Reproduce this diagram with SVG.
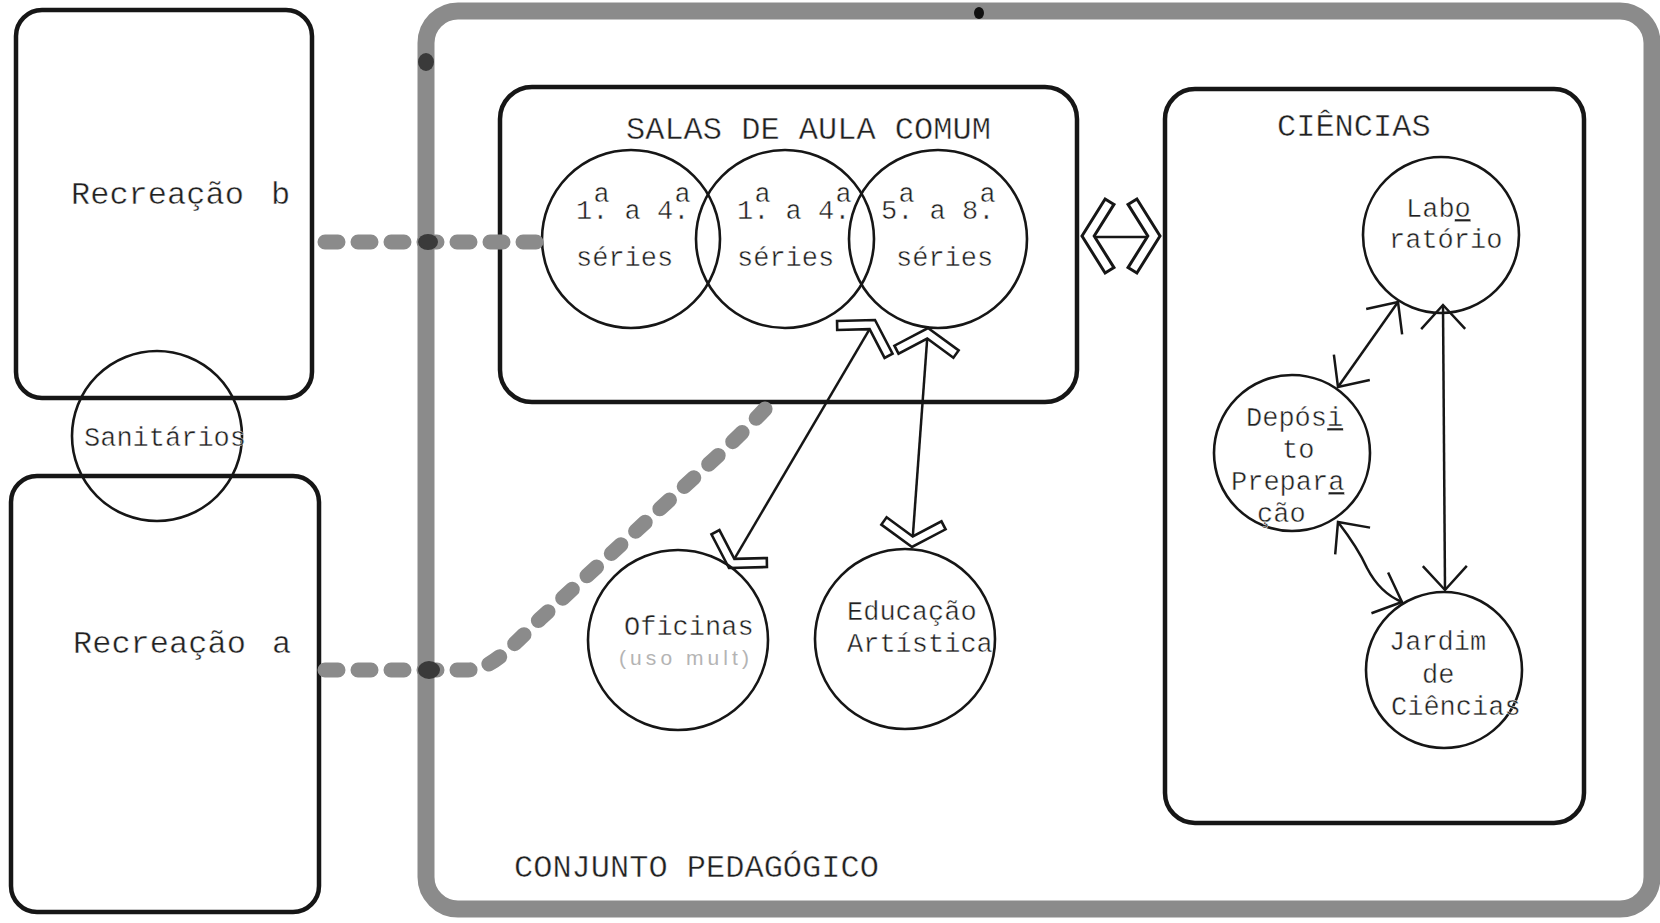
<svg xmlns="http://www.w3.org/2000/svg" xmlns:xlink="http://www.w3.org/1999/xlink" width="1660" height="923" viewBox="0 0 1660 923">
  <style>
    .zone { fill: none; stroke: #8b8b8b; stroke-width: 17; }
    .box { fill: none; stroke: #161616; stroke-width: 4.5; }
    .room { fill: none; stroke: #161616; stroke-width: 2.6; }
    .pica, .elite { font-family: "Liberation Mono", "DejaVu Sans Mono", monospace; fill: #202020; stroke: #ffffff; stroke-width: 0.45; }
    .pica { font-size: 32px; }
    .elite { font-size: 27px; }
    .split { text-decoration: underline; }
    .note { font-family: "Liberation Sans", "DejaVu Sans", sans-serif; font-size: 21px; fill: #b4b4b4; stroke: none; }
    .walk { fill: none; stroke: #8b8b8b; stroke-width: 15; stroke-linecap: round; stroke-dasharray: 13 20; }
    .knot { fill: #3a3a3a; }
    .flow { fill: none; stroke: #161616; stroke-width: 2.5; }
    .chev { fill: none; stroke: #161616; stroke-width: 2.6; stroke-linejoin: miter; }
  </style>
  <defs>
    <!-- hollow open arrowhead: tip at origin, arms opening towards +x -->
    <path id="chevron" d="M0,0 L20.1,-32.2 L27.8,-27.5 L10.6,0 L27.8,27.5 L20.1,32.2 Z"/>
    <!-- plain line arrowhead for the science links -->
    <marker id="vee" markerUnits="userSpaceOnUse" orient="auto-start-reverse" refX="0" refY="0" markerWidth="1" markerHeight="1" style="overflow:visible">
      <path d="M-24,-22 L0,0 L-24,22" fill="none" stroke="#161616" stroke-width="2.5"/>
    </marker>
  </defs>

  <rect width="1660" height="923" fill="#ffffff"/>

  <!-- pedagogical block outline -->
  <g id="conjunto-pedagogico">
    <rect class="zone" x="426" y="11" width="1226" height="898" rx="32"/>
    <ellipse cx="426" cy="62" rx="8" ry="9" class="knot"/>
    <ellipse cx="979" cy="13" rx="5" ry="6" fill="#111"/>
    <text class="pica" x="514" y="877">CONJUNTO PEDAGÓGICO</text>
  </g>

  <g id="recreacao-b">
    <rect class="box" x="16" y="10" width="296" height="388" rx="26"/>
    <text class="pica" x="71" y="204" word-spacing="8">Recreação b</text>
  </g>

  <g id="recreacao-a">
    <rect class="box" x="11" y="476" width="308" height="436" rx="26"/>
    <text class="pica" x="73" y="653" word-spacing="7">Recreação a</text>
  </g>

  <g id="sanitarios">
    <circle class="room" cx="157" cy="436" r="85"/>
    <text class="elite" x="84" y="446">Sanitários</text>
  </g>

  <g id="salas-de-aula-comum">
    <rect class="box" x="500" y="87" width="577" height="315" rx="32"/>
    <text class="pica" x="626" y="139">SALAS DE AULA COMUM</text>
    <!-- ordinals typed as period with a raised "a" struck over it -->
    <g id="sala-1a-4a-i">
      <circle class="room" cx="631" cy="239" r="89"/>
      <text class="elite" x="576" y="219">1.<tspan dx="-15" dy="-17">a</tspan><tspan dx="-1.2" dy="17"> a 4.</tspan><tspan dx="-15" dy="-17">a</tspan><tspan x="576" dy="64">séries</tspan></text>
    </g>
    <g id="sala-1a-4a-ii">
      <circle class="room" cx="785" cy="239" r="89"/>
      <text class="elite" x="737" y="219">1.<tspan dx="-15" dy="-17">a</tspan><tspan dx="-1.2" dy="17"> a 4.</tspan><tspan dx="-15" dy="-17">a</tspan><tspan x="737" dy="64">séries</tspan></text>
    </g>
    <g id="sala-5a-8a">
      <circle class="room" cx="938" cy="239" r="89"/>
      <text class="elite" x="881" y="219">5.<tspan dx="-15" dy="-17">a</tspan><tspan dx="-1.2" dy="17"> a 8.</tspan><tspan dx="-15" dy="-17">a</tspan><tspan x="896" dy="64">séries</tspan></text>
    </g>
  </g>

  <g id="oficinas">
    <circle class="room" cx="678" cy="640" r="90"/>
    <text class="elite" x="624" y="635">Oficinas<tspan class="note" x="619" dy="30" textLength="130">(uso mult)</tspan></text>
  </g>

  <g id="educacao-artistica">
    <circle class="room" cx="905" cy="639" r="90"/>
    <text class="elite" x="847" y="620">Educação<tspan x="847" dy="32">Artística</tspan></text>
  </g>

  <g id="ciencias">
    <rect class="box" x="1165" y="89" width="419" height="734" rx="30"/>
    <text class="pica" x="1277" y="136">CIÊNCIAS</text>
  </g>

  <!-- words split across lines carry an underline under the last letter -->
  <g id="laboratorio">
    <circle class="room" cx="1441" cy="235" r="78"/>
    <text class="elite" x="1406" y="217">Lab<tspan class="split">o</tspan><tspan x="1389" dy="31">ratório</tspan></text>
  </g>

  <g id="deposito-preparacao">
    <circle class="room" cx="1292" cy="453" r="78"/>
    <text class="elite" x="1246" y="426">Depós<tspan class="split">i</tspan><tspan x="1282" dy="32">to</tspan><tspan x="1231" dy="32">Prepar</tspan><tspan class="split">a</tspan><tspan x="1257" dy="32">ção</tspan></text>
  </g>

  <g id="jardim-de-ciencias">
    <circle class="room" cx="1444" cy="670" r="78"/>
    <text class="elite" x="1389" y="650">Jardim<tspan x="1422" dy="33">de</tspan><tspan x="1391" dy="32">Ciências</tspan></text>
  </g>

  <g id="connectors">
    <!-- open-air walkways -->
    <path class="walk" d="M325,242 L542,242"/>
    <path class="walk" d="M325,670 L468,670 C492,669 508,650 540,619 L700,472 Q738,438 766,408"/>
    <ellipse class="knot" cx="428" cy="242" rx="10" ry="8"/>
    <ellipse class="knot" cx="429" cy="670" rx="11" ry="9" fill="#222"/>

    <!-- classrooms to science block -->
    <path class="flow" d="M1094,237 L1148,237"/>
    <use xlink:href="#chevron" class="chev" transform="translate(1082,236) scale(1.15)"/>
    <use xlink:href="#chevron" class="chev" transform="translate(1160,236) rotate(180) scale(1.15)"/>

    <!-- 5a-8a room to workshops -->
    <path class="flow" d="M734.4,558.9 L869.6,329.1"/>
    <use xlink:href="#chevron" class="chev" transform="translate(729,568) rotate(-59.5)"/>
    <use xlink:href="#chevron" class="chev" transform="translate(875,320) rotate(120.5)"/>

    <!-- 5a-8a room to art education -->
    <path class="flow" d="M912.8,536.4 L927.2,338.6"/>
    <use xlink:href="#chevron" class="chev" transform="translate(912,547) rotate(-85.8)"/>
    <use xlink:href="#chevron" class="chev" transform="translate(928,328) rotate(94.2)"/>

    <!-- science block links -->
    <path class="flow" d="M1338,387 L1398,302" marker-start="url(#vee)" marker-end="url(#vee)"/>
    <path class="flow" d="M1443,305 L1445,590" marker-start="url(#vee)" marker-end="url(#vee)"/>
    <path class="flow" d="M1338,522 Q1358,548 1367,568 Q1380,593 1402,602" marker-start="url(#vee)" marker-end="url(#vee)"/>
  </g>
</svg>
